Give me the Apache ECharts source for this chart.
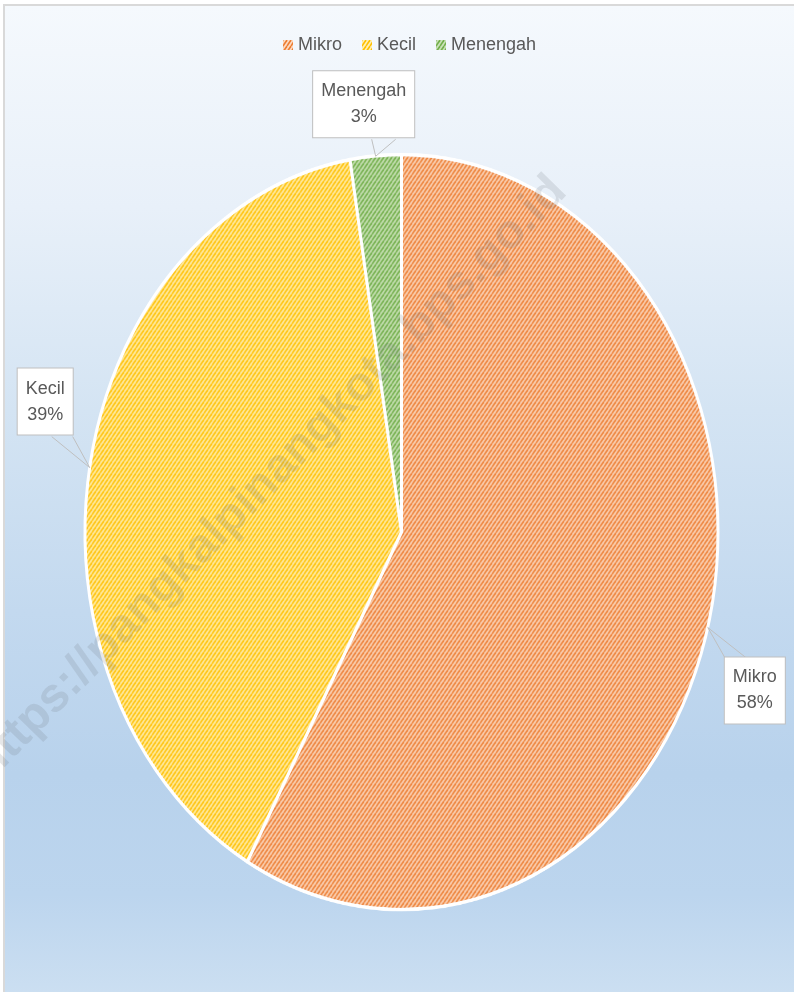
<!DOCTYPE html>
<html>
<head>
<meta charset="utf-8">
<script src="https://cdn.jsdelivr.net/npm/echarts@6/dist/echarts.min.js"></script>
<style>
  html, body { margin: 0; padding: 0; width: 794px; height: 992px; overflow: hidden; }
  #frame {
    position: absolute; left: 3px; top: 4px; width: 810px; height: 1010px;
    border: 2px solid #d9d9d9;
    background: linear-gradient(to bottom, #f5f9fd 0%, #e8f0f9 20%, #d4e4f3 40%, #c3d9ef 60%, #b8d2ec 76%, #bcd5ee 88%, #cfe1f2 100%);
  }
  #pie { position: absolute; left: 0; }
  #top { position: absolute; left: 0; top: 0; width: 794px; height: 992px; }
</style>
</head>
<body>
<div id="frame"></div>
<div id="pie"></div>
<div id="top"></div>
<script>
// data
var categories = ['Mikro', 'Kecil', 'Menengah'];
var shares = [58.1, 39.3, 2.6];

// hatch colours (line, ground)
var lineColors = ['#ed7d31', '#ffc000', '#70ad47'];
var groundColors = ['#fcdcc6', '#fff1b8', '#cfe5bf'];

// ellipse of the pie on the page
var CX = 401.5, CY = 532.5, RX = 316.5, RY = 377.5;
var SY = RY / RX, M = 8;

function hatch(fg, bg, w, h) {
    var c = document.createElement('canvas');
    c.width = w; c.height = h;
    var ctx = c.getContext('2d');
    ctx.fillStyle = bg;
    ctx.fillRect(0, 0, w, h);
    ctx.strokeStyle = fg;
    ctx.lineWidth = 1.6;
    for (var k = -1; k <= 1; k++) {
        ctx.beginPath();
        ctx.moveTo(k * w, h);
        ctx.lineTo(k * w + w, 0);
        ctx.stroke();
    }
    return { image: c, repeat: 'repeat' };
}

// pie, drawn round and stretched into the ellipse
var pieDom = document.getElementById('pie');
pieDom.style.width = '794px';
pieDom.style.height = (2 * RX + 2 * M) + 'px';
pieDom.style.top = (CY - (RX + M) * SY) + 'px';
pieDom.style.transform = 'scaleY(' + SY + ')';
pieDom.style.transformOrigin = '0 0';

var pieChart = echarts.init(pieDom, null, { renderer: 'canvas', devicePixelRatio: 2 });
pieChart.setOption({
    animation: false,
    series: [{
        type: 'pie',
        silent: true,
        center: [CX, RX + M],
        radius: RX,
        startAngle: 90,
        clockwise: true,
        label: { show: false },
        labelLine: { show: false },
        itemStyle: { borderColor: '#ffffff', borderWidth: 3 },
        data: categories.map(function (name, i) {
            return { name: name, value: shares[i], itemStyle: { color: hatch(lineColors[i], groundColors[i], 4, 5) } };
        })
    }]
});

// where each slice's callout points: middle of the slice on the ellipse
var total = shares.reduce(function (s, v) { return s + v; }, 0);
var tips = [];
var run = 0;
shares.forEach(function (v) {
    var phi = 2 * Math.PI * (run + v / 2) / total;
    run += v;
    tips.push({ s: Math.sin(phi), c: Math.cos(phi), x: CX + RX * Math.sin(phi), y: CY - RY * Math.cos(phi) });
});

var topChart = echarts.init(document.getElementById('top'));
topChart.setOption({
    animation: false,
    legend: {
        left: 278,
        top: 31,
        itemWidth: 10,
        itemHeight: 10,
        itemGap: 20,
        icon: 'rect',
        textStyle: { fontFamily: 'Liberation Sans', fontSize: 18, color: '#595959' },
        data: categories.map(function (name, i) {
            return { name: name, itemStyle: { color: hatch(lineColors[i], groundColors[i], 4, 6) } };
        })
    },
    graphic: [{
        type: 'text',
        x: 576,
        y: 201,
        rotation: 45.5 * Math.PI / 180,
        silent: true,
        z: 1,
        style: {
            text: 'https://pangkalpinangkota.bps.go.id',
            font: 'bold 48px "Liberation Sans"',
            fill: 'rgba(105,110,118,0.17)',
            align: 'right',
            verticalAlign: 'bottom'
        }
    }],
    series: [{
        type: 'pie',
        silent: true,
        z: 5,
        center: [CX, CY],
        radius: 20,
        startAngle: 90,
        clockwise: true,
        itemStyle: { color: 'transparent', borderWidth: 0 },
        label: {
            show: true,
            position: 'outside',
            overflow: 'none',
            formatter: function (p) { return p.name + '\n' + Math.round(p.percent) + '%'; },
            fontFamily: 'Liberation Sans',
            fontSize: 18,
            lineHeight: 26,
            color: '#595959',
            backgroundColor: '#ffffff',
            borderColor: '#bfbfbf',
            borderWidth: 1,
            padding: [7, 8, 7, 8]
        },
        labelLine: { show: true, lineStyle: { color: '#bfbfbf', width: 1 } },
        labelLayout: function (p) {
            var t = tips[p.dataIndex];
            var w = p.labelRect.width, h = p.labelRect.height;
            var left, top, base;
            if (Math.abs(t.s) < 0.5) {
                left = t.x - w / 2 - 12;
                top = t.c > 0 ? t.y - 17 - h : t.y + 17;
                var by = t.c > 0 ? top + h : top;
                base = [[t.x - 4, by], [t.x + 20, by]];
            } else {
                left = t.s > 0 ? t.x + 16 : t.x - 16 - w;
                top = t.c > 0 ? t.y - 31 - h : t.y + 30;
                var ey = t.c > 0 ? top + h : top;
                base = t.s > 0 ? [[left + 1, ey], [left + 22, ey]] : [[left + w - 22, ey], [left + w - 1, ey]];
            }
            return {
                x: left + w / 2,
                y: top,
                align: 'center',
                verticalAlign: 'top',
                labelLinePoints: [base[0], [t.x, t.y], base[1]]
            };
        },
        data: categories.map(function (name, i) {
            return { name: name, value: shares[i] };
        })
    }]
});
</script>
</body>
</html>
